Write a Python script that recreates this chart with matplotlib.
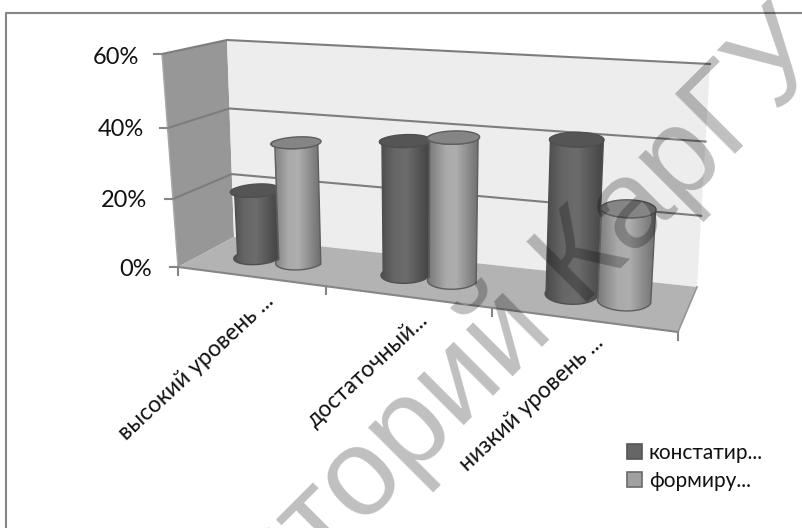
import matplotlib
matplotlib.use("Agg")
import numpy as np
import matplotlib.pyplot as plt
from matplotlib.colors import LinearSegmentedColormap
from matplotlib.patches import Polygon, Rectangle

plt.rcParams['font.family'] = ['Lato', 'Noto Sans', 'DejaVu Sans']

# Chart content
categories = ['высокий уровень ...', 'достаточный...', 'низкий уровень ...']
series_names = ['констатир...', 'формиру...']
konstat = [20, 38, 42]
formir = [35, 40, 25]
value_ticks = [0, 20, 40, 60]
VMAX = 60.0

# Screen positions of the eight corners of the 3-D plot box
FLB = np.array([178., 267.]); FLT = np.array([162., 54.])
BLB = np.array([234., 237.]); BLT = np.array([227., 40.])
BRB = np.array([697., 287.]); BRT = np.array([710., 64.])
FRB = np.array([678., 332.]); FRT = np.array([693., 91.])


def persp(t, c):
    return t / (1 + c * (1 - t))


def project(x, d, v):
    """Category position x (0..3), depth d (0 front, 1 back), value v to pixels."""
    x, d, v = np.broadcast_arrays(np.asarray(x, float), np.asarray(d, float), np.asarray(v, float))
    tx = persp(x / 3.0, 0.187)[..., None]
    tv = persp(v / VMAX, 0.066)[..., None]
    dd = d[..., None]
    front = (1 - tx) * ((1 - tv) * FLB + tv * FLT) + tx * ((1 - tv) * FRB + tv * FRT)
    back = (1 - tx) * ((1 - tv) * BLB + tv * BLT) + tx * ((1 - tv) * BRB + tv * BRT)
    return (1 - dd) * front + dd * back


fig = plt.figure(figsize=(8.03, 5.28), dpi=100, facecolor='white')
ax = fig.add_axes([0, 0, 1, 1])
ax.set_xlim(0, 803)
ax.set_ylim(528, 0)
ax.axis('off')

# Outer chart frame (open at the right and bottom)
ax.plot([6.5, 6.5, 803], [528, 12.5, 12.5], color='#868686', lw=1.5, zorder=1)

# Walls and floor
ax.add_patch(Polygon([FLB, FLT, BLT, BLB], fc='#979797', ec='none', zorder=2))
ax.add_patch(Polygon([BLB, BLT, BRT, BRB], fc='#ededed', ec='none', zorder=2))
ax.add_patch(Polygon([FLB, BLB, BRB, FRB], fc='#b3b3b3', ec='none', zorder=2))

GRID = '#7d7d7d'
for v in value_ticks[1:]:
    pts = project([0, 0, 3], [0, 1, 1], [v, v, v])
    ax.plot(pts[:, 0], pts[:, 1], color=GRID, lw=1.5, zorder=3)
pts = project([0, 3], [0, 0], [0, 0])
ax.plot(pts[:, 0], pts[:, 1], color='#868686', lw=1.5, zorder=3)
pts = project([3, 3], [0, 1], [0, 0])
ax.plot(pts[:, 0], pts[:, 1], color='#969696', lw=1.2, zorder=3)
pts = project([0, 0], [0, 0], [0, VMAX])
ax.plot(pts[:, 0], pts[:, 1], color='#a8a8a8', lw=1.0, zorder=3)

# Value axis ticks and labels
label_right = [152, 147, 144, 139]
label_shift = [2.5, 1.5, 1.5, 3.5]
for v, xr, dy in zip(value_ticks, label_right, label_shift):
    p = project(0, 0, v)
    ax.plot([p[0] - 8, p[0]], [p[1], p[1]], color='#868686', lw=1.5, zorder=3)
    ax.text(xr, p[1] + dy, f'{v}%', ha='right', va='center', fontsize=17, color='#111111', zorder=8)

# Category axis ticks
for i in range(4):
    p = project(i, 0, 0)
    ax.plot([p[0], p[0]], [p[1], p[1] + 8], color='#868686', lw=1.5, zorder=3)

# Category labels, slanted and anchored at their right-hand end
label_ends = [(270, 298), (425, 317), (600, 339)]
for name, (xe, ye) in zip(categories, label_ends):
    ax.text(xe, ye, name, rotation=43, rotation_mode='anchor', ha='right', va='center',
            fontsize=16.5, color='#111111', zorder=8)

dark_cmap = LinearSegmentedColormap.from_list('dark', [(0, '#494949'), (.3, '#666666'), (.55, '#6c6c6c'), (1, '#444444')])
light_cmap = LinearSegmentedColormap.from_list('light', [(0, '#787878'), (.35, '#aaaaaa'), (.55, '#aeaeae'), (1, '#6e6e6e')])

RX, RD = 0.145, 0.24
DARK_OFFSET, LIGHT_OFFSET = 0.14, 0.155
DEPTH = 0.54


def cylinder(xc, value, cmap, cap, edge, z):
    th = np.linspace(0, 2 * np.pi, 181)
    xs = xc + RX * np.cos(th)
    ds = DEPTH + RD * np.sin(th)
    base = project(xs, ds, 0 * th)
    top = project(xs, ds, value + 0 * th)
    front = (th >= np.pi)
    body = np.vstack([base[front], top[front][::-1]])
    patch = Polygon(body, fc='none', ec='none', zorder=z)
    ax.add_patch(patch)
    x0, x1 = body[:, 0].min(), body[:, 0].max()
    y0, y1 = body[:, 1].min(), body[:, 1].max()
    im = ax.imshow(np.linspace(0, 1, 128)[None, :], cmap=cmap, extent=(x0, x1, y1, y0),
                   aspect='auto', zorder=z, interpolation='bilinear')
    im.set_clip_path(patch)
    ax.add_patch(Polygon(body, fc='none', ec=edge, lw=1.0, zorder=z + 0.1))
    ax.add_patch(Polygon(top, fc=cap, ec=edge, lw=1.0, zorder=z + 0.2))


for i, v in enumerate(konstat):
    cylinder(i + 0.5 - DARK_OFFSET, v, dark_cmap, '#555555', '#4f4f4f', 4 + i)
for i, v in enumerate(formir):
    cylinder(i + 0.5 + LIGHT_OFFSET, v, light_cmap, '#858585', '#5e5e5e', 4.5 + i)
ax.set_xlim(0, 803)
ax.set_ylim(528, 0)

# Legend
legend_rows = [(444, '#666666', '#555555', 453), (472, '#a0a0a0', '#6a6a6a', 481)]
for name, (ytop, fc, ec, yt) in zip(series_names, legend_rows):
    ax.add_patch(Rectangle((627.5, ytop), 15, 14.5, fc=fc, ec=ec, lw=1.2, zorder=8))
    ax.text(649, yt, name, ha='left', va='center', fontsize=15, color='#111111', zorder=8)

# Repository watermark across the whole chart
ax.text(831, 58, 'Репозиторий КарГУ', rotation=45, rotation_mode='anchor', ha='right', va='baseline',
        fontsize=89, family='Liberation Sans', color='black', alpha=0.25, zorder=20, clip_on=True)

fig.savefig('out.png', dpi=100, facecolor='white')
